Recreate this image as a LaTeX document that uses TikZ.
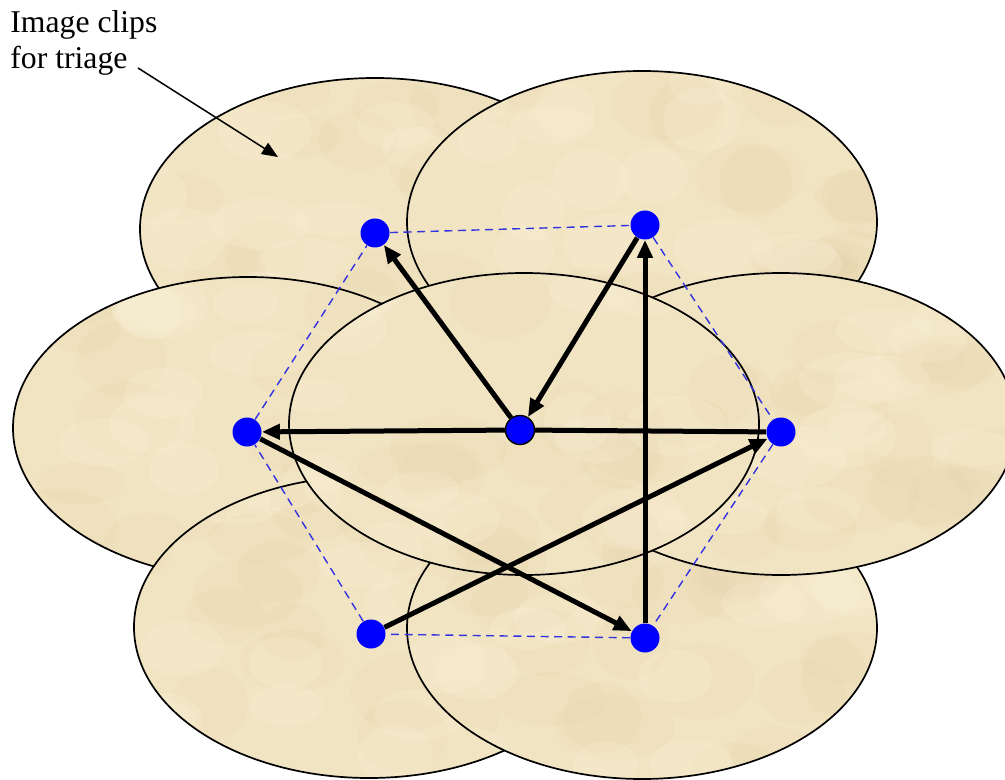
\documentclass[tikz,border=0pt]{standalone}
\usepackage{fontspec}
\setmainfont{Liberation Serif}
\usetikzlibrary{arrows.meta}
\definecolor{parch}{RGB}{241,228,194}
\definecolor{parchdark}{RGB}{220,195,150}
\definecolor{parchlight}{RGB}{250,241,216}
\definecolor{hexblue}{RGB}{50,50,225}
\definecolor{dotblue}{RGB}{0,0,255}
\tikzset{
  clipell/.style={draw=black, line width=0.85pt},
  hexline/.style={draw=hexblue, line width=0.7pt, dash pattern=on 4pt off 2.8pt},
  dotnode/.style={circle, fill=dotblue, inner sep=0pt, minimum size=14.5pt},
  thickarrow/.style={draw=black, line width=2.5pt, -{Triangle[length=9pt,width=7.5pt]}},
  thickline/.style={draw=black, line width=2.5pt},
  notearrow/.style={draw=black, line width=0.75pt, -{Triangle[length=8pt,width=6.5pt]}}
}
\newcommand\myparchell[2]{%
  \fill[parch] (#1,#2) ellipse [x radius=117.5pt, y radius=75.5pt];
  \begin{scope}
    \clip (#1,#2) ellipse [x radius=117.5pt, y radius=75.5pt];
    \foreach \i in {1,...,22}{
      \fill[parchdark, opacity=0.08] ({#1+230*rand},{#2+150*rand}) ellipse [x radius={16pt+14pt*rnd}, y radius={10pt+10pt*rnd}];
    }
    \foreach \i in {1,...,16}{
      \fill[parchlight, opacity=0.25] ({#1+230*rand},{#2+150*rand}) ellipse [x radius={14pt+12pt*rnd}, y radius={8pt+8pt*rnd}];
    }
  \end{scope}
  \draw[clipell] (#1,#2) ellipse [x radius=117.5pt, y radius=75.5pt];
}
\begin{document}
\begin{tikzpicture}[x=0.5pt,y=-0.5pt]
\pgfmathsetseed{7}
\useasboundingbox (0,0) rectangle (1005,780);
% ellipses (bottom to top)
\myparchell{375}{229}
\myparchell{642}{222}
\myparchell{248}{428}
\myparchell{369}{627}
\myparchell{642}{628}
\myparchell{781}{424}
\myparchell{524}{424}
% dots
\node[dotnode] (A) at (375,233) {};
\node[dotnode] (B) at (645,225) {};
\node[dotnode] (C) at (247,432) {};
\node[dotnode] (D) at (781,432) {};
\node[dotnode] (E) at (371,634) {};
\node[dotnode] (F) at (645,638) {};
% hexagon
\draw[hexline] (A) -- (B);
\draw[hexline] (B) -- (D);
\draw[hexline] (D) -- (F);
\draw[hexline] (F) -- (E);
\draw[hexline] (E) -- (C);
\draw[hexline] (C) -- (A);
% centre dot
\node[dotnode, draw=black, line width=0.7pt] (O) at (520,430) {};
% arrows
\draw[thickarrow] (O) -- (A);
\draw[thickarrow] (B) -- (O);
\draw[thickline] (D) -- (O);
\draw[thickarrow] (O) -- (C);
\draw[thickarrow] (C) -- (F);
\draw[thickarrow] (F) -- (B);
\draw[thickarrow] (E) -- (D);
% label
\node[anchor=base west, align=left, inner sep=0pt, font=\fontsize{15.85}{18}\selectfont] (lbl) at (10,69) {Image clips\\for triage};
\coordinate (ls) at (138,68);
\coordinate (le) at (278,157);
\draw[notearrow] (ls) -- (le);
\end{tikzpicture}
\end{document}
